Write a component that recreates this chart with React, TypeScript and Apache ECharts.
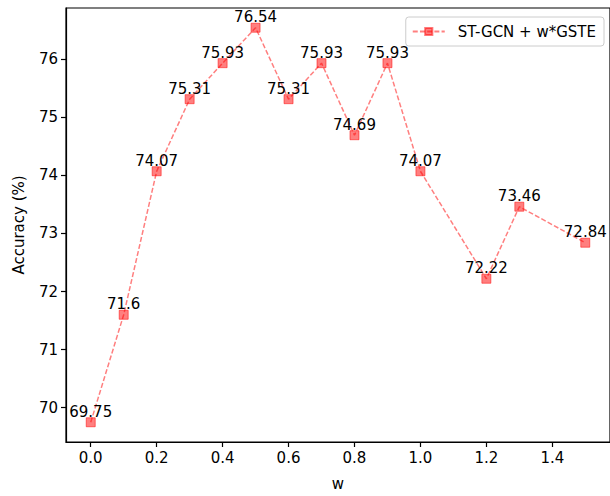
import React, { useEffect, useRef } from "react";
import * as echarts from "echarts";

const wValues = [0, 0.1, 0.2, 0.3, 0.4, 0.5, 0.6, 0.7, 0.8, 0.9, 1.0, 1.2, 1.3, 1.5];
const accuracy = [69.75, 71.6, 74.07, 75.31, 75.93, 76.54, 75.31, 75.93, 74.69, 75.93, 74.07, 72.22, 73.46, 72.84];
const xTicks = [0, 0.2, 0.4, 0.6, 0.8, 1.0, 1.2, 1.4];
const yTicks = [70, 71, 72, 73, 74, 75, 76];
const seriesName = "ST-GCN + w*GSTE";

const FONT = "DejaVu Sans";
const FS = 15;

export default function App() {
  const ref = useRef<HTMLDivElement>(null);
  useEffect(() => {
    if (!ref.current) return;
    const chart = echarts.init(ref.current, null, { renderer: "svg" });
    const data = wValues.map((w, i) => [w, accuracy[i]]);
    const yMin = Math.min(...accuracy);
    const yMax = Math.max(...accuracy);
    const yPad = (yMax - yMin) * 0.05;
    const xMin = Math.min(...wValues);
    const xMax = Math.max(...wValues);
    const xPad = (xMax - xMin) * 0.05;
    chart.setOption({
      animation: false,
      backgroundColor: "#ffffff",
      textStyle: { fontFamily: FONT },
      grid: {
        left: 66,
        top: 8,
        width: 544.5,
        height: 437,
        show: true,
        borderColor: "#000000",
        borderWidth: 1.2,
        backgroundColor: "transparent",
      },
      legend: {
        show: true,
        right: 6,
        top: 17,
        orient: "vertical",
        backgroundColor: "rgba(255,255,255,0.8)",
        borderColor: "#cccccc",
        borderWidth: 1,
        borderRadius: 3,
        padding: [7, 8, 7, 6],
        itemWidth: 32,
        itemHeight: 9,
        textStyle: { fontFamily: FONT, fontSize: FS, color: "#000", padding: [0, 0, 0, 8] },
        data: [seriesName],
      },
      xAxis: {
        type: "value",
        min: xMin - xPad,
        max: xMax + xPad,
        name: "w",
        nameLocation: "middle",
        nameGap: 34,
        nameTextStyle: { fontFamily: FONT, fontSize: FS, color: "#000" },
        axisLine: { show: true, onZero: false, lineStyle: { color: "#000", width: 1.2 } },
        axisTick: { show: true, inside: false, length: 5, lineStyle: { color: "#000", width: 1.2 }, customValues: xTicks },
        axisLabel: {
          show: true,
          customValues: xTicks,
          margin: 8,
          fontFamily: FONT,
          fontSize: FS,
          color: "#000",
          formatter: (v: number) => v.toFixed(1),
        },
        splitLine: { show: false },
      },
      yAxis: {
        type: "value",
        min: yMin - yPad,
        max: yMax + yPad,
        name: "Accuracy (%)",
        nameLocation: "middle",
        nameGap: 40,
        nameTextStyle: { fontFamily: FONT, fontSize: FS, color: "#000" },
        axisLine: { show: true, onZero: false, lineStyle: { color: "#000", width: 1.2 } },
        axisTick: { show: true, inside: false, length: 5, lineStyle: { color: "#000", width: 1.2 }, customValues: yTicks },
        axisLabel: {
          show: true,
          customValues: yTicks,
          margin: 8,
          fontFamily: FONT,
          fontSize: FS,
          color: "#000",
          formatter: (v: number) => String(Math.round(v)),
        },
        splitLine: { show: false },
      },
      series: [
        {
          name: seriesName,
          type: "line",
          data,
          symbol: "rect",
          symbolSize: 9,
          lineStyle: { color: "rgba(255,0,0,0.5)", width: 1.5, type: [5, 2.2] },
          itemStyle: { color: "rgba(255,0,0,0.5)", borderColor: "rgba(255,0,0,0.5)", borderWidth: 1 },
          label: {
            show: true,
            position: "top",
            distance: -2,
            fontFamily: FONT,
            fontSize: FS,
            color: "#000",
            formatter: (p: any) => String(p.value[1]),
          },
          z: 3,
        },
      ],
    });
    return () => chart.dispose();
  }, []);
  return <div ref={ref} style={{ position: "fixed", left: 0, top: 0, width: 610, height: 496 }} />;
}
